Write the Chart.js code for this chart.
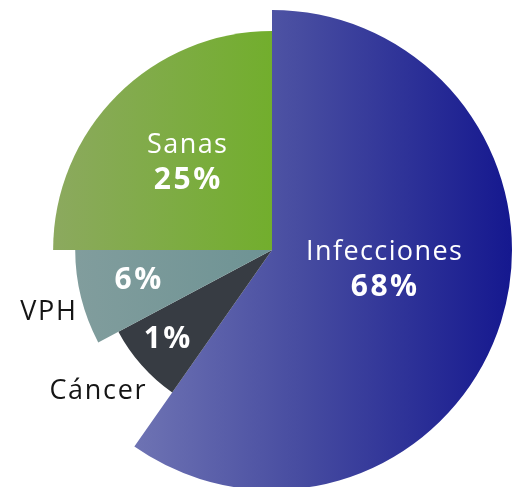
<!DOCTYPE html>
<html>
<head>
<meta charset="utf-8">
<script src="https://cdn.jsdelivr.net/npm/chart.js@4.4.0/dist/chart.umd.min.js"></script>
<style>
  html, body { margin: 0; padding: 0; overflow: hidden; background: #fff; }
  #wrap { width: 516px; height: 492px; }
</style>
</head>
<body>
<div id="wrap"><canvas id="chart"></canvas></div>
<script>
const categories = ['Infecciones', 'Cáncer', 'VPH', 'Sanas'];
const percentages = [68, 1, 6, 25];
// degrees each slice takes up in the picture (not proportional to the %)
const sliceAngles = [215, 27, 28, 90];

const FONT = "'Open Sans', sans-serif";

function sliceGradient(ctx, i) {
  const chart = ctx.chart;
  const area = chart.chartArea;
  if (!area) return '#888';
  const cx = (area.left + area.right) / 2;
  const r = Math.min(area.width, area.height) / 2;
  const g = chart.ctx;
  let grad;
  if (i === 0) {
    grad = g.createLinearGradient(cx - 0.57 * r, 0, cx + r, 0);
    grad.addColorStop(0, '#6e73b3');
    grad.addColorStop(0.45, '#464ba0');
    grad.addColorStop(1, '#15188f');
    return grad;
  }
  if (i === 1) return '#373c43';
  if (i === 2) {
    grad = g.createLinearGradient(cx - 0.82 * r, 0, cx, 0);
    grad.addColorStop(0, '#819d9d');
    grad.addColorStop(1, '#6e9394');
    return grad;
  }
  grad = g.createLinearGradient(cx - 0.92 * r, 0, cx, 0);
  grad.addColorStop(0, '#8ca95f');
  grad.addColorStop(1, '#72ae2d');
  return grad;
}

// each slice has its own outer radius in the picture
const sliceRadius = {
  id: 'sliceRadius',
  afterDatasetsUpdate(chart, args, opts) {
    const meta = chart.getDatasetMeta(0);
    meta.data.forEach((arc, i) => {
      arc.outerRadius = arc.outerRadius * opts.scale[i];
    });
  }
};

function spacedText(ctx, text, x, y, spacing) {
  ctx.letterSpacing = spacing + 'px';
  // trailing spacing shifts centred text, so pull it back
  ctx.fillText(text, x + spacing / 2, y);
  ctx.letterSpacing = '0px';
}

const sliceLabels = {
  id: 'sliceLabels',
  afterDatasetsDraw(chart, args, opts) {
    const ctx = chart.ctx;
    const arc = chart.getDatasetMeta(0).data[0];
    const cx = arc.x, cy = arc.y;
    const place = (p) => {
      const a = p[0] * Math.PI / 180;
      return { x: cx + p[1] * Math.sin(a), y: cy - p[1] * Math.cos(a) };
    };
    ctx.save();
    ctx.textAlign = 'center';
    ctx.textBaseline = 'alphabetic';
    categories.forEach((name, i) => {
      const o = opts.spots[i];
      const pct = percentages[i] + '%';
      if (o.inside) {
        const p = place(o.name);
        ctx.fillStyle = '#ffffff';
        ctx.font = '400 27px ' + FONT;
        spacedText(ctx, name, p.x, p.y, 1.4);
        ctx.font = '700 30px ' + FONT;
        spacedText(ctx, pct, p.x, p.y + 36, 2.5);
      } else {
        const p = place(o.pct);
        ctx.fillStyle = '#ffffff';
        ctx.font = '700 30px ' + FONT;
        spacedText(ctx, pct, p.x, p.y, 2.5);
        const n = place(o.name);
        ctx.fillStyle = '#151515';
        ctx.font = '400 27px ' + FONT;
        spacedText(ctx, name, n.x, n.y, 1.7);
      }
    });
    ctx.restore();
  }
};

new Chart(document.getElementById('chart'), {
  type: 'pie',
  data: {
    labels: categories,
    datasets: [{
      data: sliceAngles,
      backgroundColor: (ctx) => sliceGradient(ctx, ctx.dataIndex),
      borderWidth: 0
    }]
  },
  options: {
    responsive: true,
    maintainAspectRatio: false,
    animation: false,
    layout: { padding: { left: 32, right: 4, top: 10, bottom: 2 } },
    plugins: {
      legend: { display: false },
      tooltip: { enabled: false },
      sliceRadius: { scale: [1, 0.725, 0.82, 0.912] },
      sliceLabels: {
        spots: [
          { inside: true, name: [95.1, 112.4] },
          { inside: false, pct: [227, 143.6], name: [229.5, 229.5] },
          { inside: false, pct: [253.8, 139.6], name: [252.6, 234.7] },
          { inside: true, name: [318.8, 129] }
        ]
      }
    }
  },
  plugins: [sliceRadius, sliceLabels]
});
</script>
</body>
</html>
